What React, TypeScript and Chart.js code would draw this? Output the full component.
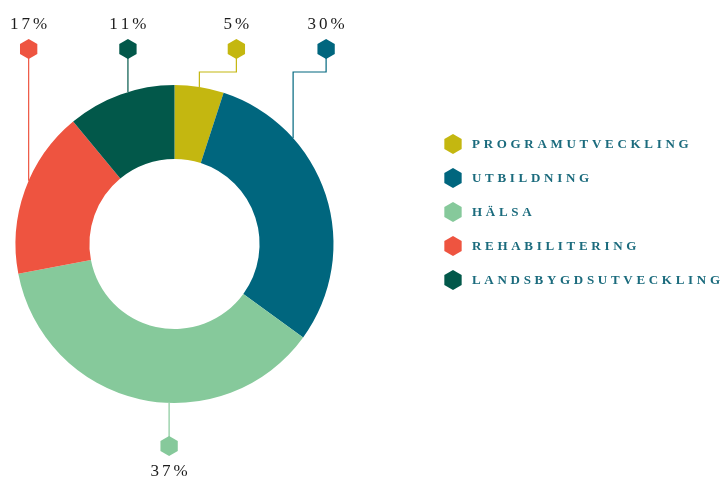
import { useEffect, useRef } from "react";
import { Chart, registerables } from "chart.js";

Chart.register(...registerables);

const categories = ["Programutveckling", "Utbildning", "Hälsa", "Rehabilitering", "Landsbygdsutveckling"];
const shares = [5, 30, 37, 17, 11];
const percentLabels = ["5%", "30%", "37%", "17%", "11%"];
const colors = ["#c4b710", "#00667e", "#86c99b", "#ee5440", "#02584a"];

// callout layout (fraction along each slice where the leader line attaches, side, horizontal elbow shift)
const calloutAnchor = [0.5, 0.28, 0.42, 0.56, 0.57];
const calloutSide = ["top", "top", "bottom", "top", "top"];
const calloutShift = [37, 33, 0, 0, 0];

const SERIF = '"Liberation Serif", "DejaVu Serif", serif';

function hexagon(ctx: CanvasRenderingContext2D, x: number, y: number, r: number, color: string) {
  ctx.beginPath();
  for (let k = 0; k < 6; k++) {
    const a = -Math.PI / 2 + (k * Math.PI) / 3;
    const px = x + Math.cos(a) * r;
    const py = y + Math.sin(a) * r;
    if (k === 0) ctx.moveTo(px, py);
    else ctx.lineTo(px, py);
  }
  ctx.closePath();
  ctx.fillStyle = color;
  ctx.fill();
}

function spacedText(
  ctx: CanvasRenderingContext2D,
  text: string,
  x: number,
  y: number,
  spacing: number,
  align: "left" | "center"
) {
  const chars = Array.from(text);
  const widths = chars.map((c) => ctx.measureText(c).width);
  const total = widths.reduce((a, b) => a + b, 0) + spacing * (chars.length - 1);
  let cx = align === "center" ? x - total / 2 : x;
  ctx.textAlign = "left";
  chars.forEach((c, i) => {
    ctx.fillText(c, cx, y);
    cx += widths[i] + spacing;
  });
}

const calloutPlugin = {
  id: "callouts",
  afterDatasetsDraw(chart: any) {
    const ctx: CanvasRenderingContext2D = chart.ctx;
    const area = chart.chartArea;
    const meta = chart.getDatasetMeta(0);
    ctx.save();
    meta.data.forEach((arc: any, i: number) => {
      const p = arc.getProps(["x", "y", "startAngle", "endAngle", "outerRadius"], true);
      const a = p.startAngle + (p.endAngle - p.startAngle) * calloutAnchor[i];
      const ax = p.x + Math.cos(a) * p.outerRadius;
      const ay = p.y + Math.sin(a) * p.outerRadius;
      const color = colors[i];
      const hx = ax + calloutShift[i];
      const top = calloutSide[i] === "top";
      const hy = top ? area.top - 36 : area.bottom + 43;
      ctx.strokeStyle = color;
      ctx.lineWidth = 1.2;
      ctx.beginPath();
      if (top) {
        const elbow = area.top - 13;
        ctx.moveTo(hx, hy + 9);
        if (calloutShift[i] !== 0) {
          ctx.lineTo(hx, elbow);
          ctx.lineTo(ax, elbow);
        }
        ctx.lineTo(ax, ay);
      } else {
        ctx.moveTo(ax, ay);
        ctx.lineTo(hx, hy - 9);
      }
      ctx.stroke();
      hexagon(ctx, hx, hy, 10, color);
      ctx.fillStyle = "#1c1c1c";
      ctx.font = `17px ${SERIF}`;
      ctx.textBaseline = "middle";
      spacedText(ctx, percentLabels[i], hx, top ? hy - 24 : hy + 26, 3, "center");
    });
    ctx.restore();
  },
  afterDraw(chart: any) {
    const ctx: CanvasRenderingContext2D = chart.ctx;
    const area = chart.chartArea;
    const lx = chart.width - 270;
    const ly = area.top + 59;
    ctx.save();
    ctx.font = `bold 13px ${SERIF}`;
    ctx.textBaseline = "middle";
    categories.forEach((c, i) => {
      const y = ly + i * 34;
      hexagon(ctx, lx, y, 10, colors[i]);
      ctx.fillStyle = "#1b6b7d";
      spacedText(ctx, c.toUpperCase(), lx + 19, y + 1, 3.7, "left");
    });
    ctx.restore();
  },
};

export default function App() {
  const ref = useRef<HTMLCanvasElement | null>(null);
  useEffect(() => {
    document.body.style.margin = "0";
    if (!ref.current) return;
    const chart = new Chart(ref.current, {
      type: "doughnut",
      data: {
        labels: categories,
        datasets: [
          {
            data: shares,
            backgroundColor: colors,
            borderWidth: 0,
            hoverOffset: 0,
          },
        ],
      },
      options: {
        animation: false,
        responsive: true,
        maintainAspectRatio: false,
        cutout: "53.5%",
        layout: { padding: { left: 15, right: 389, top: 85, bottom: 77 } },
        plugins: {
          legend: { display: false },
          tooltip: { enabled: false },
        },
      },
      plugins: [calloutPlugin],
    });
    return () => chart.destroy();
  }, []);
  return (
    <div style={{ width: 723, height: 480, position: "relative" }}>
      <canvas ref={ref} />
    </div>
  );
}
